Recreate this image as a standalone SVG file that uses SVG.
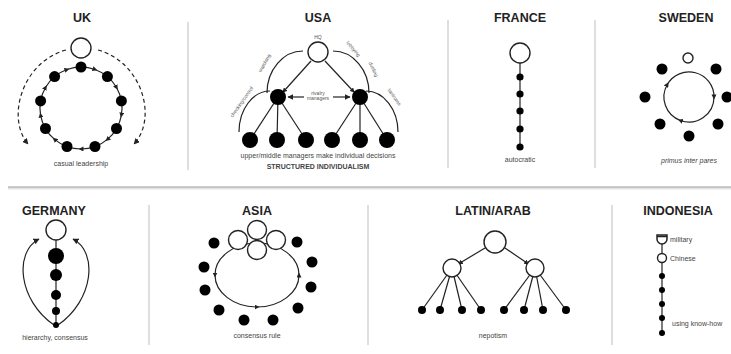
<svg xmlns="http://www.w3.org/2000/svg" width="731" height="354" viewBox="0 0 731 354">
<style>
.t{font-family:"Liberation Sans Narrow","Liberation Sans",Arial,sans-serif;font-weight:bold;font-size:12.5px;fill:#222;text-anchor:middle}
.s{font-family:"Liberation Sans",Arial,sans-serif;font-size:7px;fill:#444;text-anchor:middle}
.sl{font-family:"Liberation Sans",Arial,sans-serif;font-size:7px;fill:#444;text-anchor:start}
.xs{font-family:"Liberation Sans",Arial,sans-serif;font-size:5px;fill:#555;text-anchor:middle}
.o{fill:#fff;stroke:#222;stroke-width:1.4}
.b{fill:#000}
.l{fill:none;stroke:#222;stroke-width:1.2}
.sep{stroke:#c8c8c8;stroke-width:1.2}
</style>
<defs>
<marker id="ah" viewBox="0 0 10 10" refX="9" refY="5" markerWidth="6" markerHeight="6" orient="auto" markerUnits="userSpaceOnUse"><path d="M0,0 L10,5 L0,10 z" fill="#222"/></marker>
<marker id="am" viewBox="0 0 10 10" refX="5" refY="5" markerWidth="5" markerHeight="5" orient="auto" markerUnits="userSpaceOnUse"><path d="M0,0 L10,5 L0,10 z" fill="#222"/></marker>
</defs>
<rect width="731" height="354" fill="#fff"/>

<g id="separators">
<line class="sep" x1="188" y1="22" x2="188" y2="170"/>
<line class="sep" x1="448" y1="20" x2="448" y2="168"/>
<line class="sep" x1="595" y1="20" x2="595" y2="168"/>
<line x1="8" y1="188.5" x2="731" y2="188.5" stroke="#e2e2e2" stroke-width="2"/>
<line x1="8" y1="187" x2="731" y2="187" stroke="#9a9a9a" stroke-width="1.2"/>
<line class="sep" x1="149" y1="205" x2="149" y2="345"/>
<line class="sep" x1="368" y1="205" x2="368" y2="345"/>
<line class="sep" x1="612" y1="205" x2="612" y2="345"/>
</g>

<g id="titles">
<text class="t" x="82" y="22">UK</text>
<text class="t" x="318" y="22">USA</text>
<text class="t" x="520" y="22">FRANCE</text>
<text class="t" x="686" y="22">SWEDEN</text>
<text class="t" x="54" y="215">GERMANY</text>
<text class="t" x="257" y="215">ASIA</text>
<text class="t" x="493" y="215">LATIN/ARAB</text>
<text class="t" x="678" y="215">INDONESIA</text>
</g>

<g id="connectors">
<!-- UK -->
<path class="l" d="M66 50 C22 62 6 118 28 144" stroke-dasharray="4 3" marker-end="url(#ah)"/>
<path class="l" d="M98 50 C142 62 158 118 134 144" stroke-dasharray="4 3" marker-end="url(#ah)"/>
<path class="l" stroke-width="1" marker-start="url(#am)" marker-mid="url(#am)" d="M95 69.5 A41 41 0 0 1 116.5 87.5 A41 41 0 0 1 121.4 115.1 A41 41 0 0 1 107.4 139.4 A41 41 0 0 1 81 149 A41 41 0 0 1 54.6 139.4 A41 41 0 0 1 40.6 115.1 A41 41 0 0 1 45.5 87.5 A41 41 0 0 1 67 69.5 A41 41 0 0 1 95 69.5"/>
<!-- USA -->
<line class="l" x1="311" y1="61" x2="284" y2="91" marker-end="url(#am)"/>
<line class="l" x1="325" y1="61" x2="353" y2="91" marker-end="url(#am)"/>
<line class="l" x1="278" y1="97" x2="250" y2="140"/>
<line class="l" x1="278" y1="97" x2="277" y2="140" marker-end="url(#am)"/>
<line class="l" x1="278" y1="97" x2="306" y2="140"/>
<line class="l" x1="360" y1="97" x2="332" y2="140"/>
<line class="l" x1="360" y1="97" x2="360" y2="140" marker-end="url(#am)"/>
<line class="l" x1="360" y1="97" x2="387" y2="140"/>
<line class="l" x1="304" y1="97" x2="288" y2="97" marker-end="url(#ah)"/>
<line class="l" x1="333" y1="97" x2="350" y2="97" marker-end="url(#ah)"/>
<path class="l" d="M303 51 A36 42 0 0 0 267 93"/>
<path class="l" d="M270 91 A31 41 0 0 0 239 132"/>
<path class="l" d="M333 51 A36 42 0 0 1 369 93"/>
<path class="l" d="M366 91 A32 41 0 0 1 398 132"/>
<!-- FRANCE -->
<line class="l" x1="520" y1="63" x2="520" y2="147"/>
<!-- SWEDEN -->
<path class="l" stroke-width="1" marker-start="url(#am)" marker-mid="url(#am)" d="M667.3 84.5 A25 25 0 0 1 714 97 A25 25 0 0 1 680.4 120.5 A25 25 0 0 1 667.3 84.5"/>
<!-- GERMANY -->
<line class="l" x1="56" y1="240" x2="56" y2="326"/>
<path class="l" d="M54 325 C18 300 14 252 39 239" marker-end="url(#ah)"/>
<path class="l" d="M58 325 C94 300 98 252 73 239" marker-end="url(#ah)"/>
<!-- ASIA -->
<path class="l" stroke-width="1" marker-mid="url(#am)" d="M257 243 A42 32 0 0 0 215 275 A42 32 0 0 0 257 307 A42 32 0 0 0 299 275 A42 32 0 0 0 257 243"/>
<!-- LATIN/ARAB -->
<line class="l" x1="485" y1="248" x2="460" y2="263" marker-end="url(#am)"/>
<line class="l" x1="505" y1="248" x2="527" y2="263" marker-end="url(#am)"/>
<line class="l" x1="452" y1="268" x2="422" y2="310"/>
<line class="l" x1="452" y1="268" x2="440" y2="310"/>
<line class="l" x1="452" y1="268" x2="462" y2="310"/>
<line class="l" x1="452" y1="268" x2="481" y2="310"/>
<line class="l" x1="535" y1="268" x2="504" y2="310"/>
<line class="l" x1="535" y1="268" x2="524" y2="310"/>
<line class="l" x1="535" y1="268" x2="543" y2="310"/>
<line class="l" x1="535" y1="268" x2="566" y2="310"/>
<!-- INDONESIA -->
<line class="l" x1="662" y1="238" x2="662" y2="333" stroke-width="1.5"/>
</g>

<g id="uk">
<circle class="o" cx="81" cy="48" r="10"/>
<g class="b">
<circle cx="81" cy="67" r="5.5"/><circle cx="107.4" cy="76.6" r="5.5"/><circle cx="121.4" cy="100.9" r="5.5"/>
<circle cx="116.5" cy="128.5" r="5.5"/><circle cx="95" cy="146.5" r="5.5"/><circle cx="67" cy="146.5" r="5.5"/>
<circle cx="45.5" cy="128.5" r="5.5"/><circle cx="40.6" cy="100.9" r="5.5"/><circle cx="54.6" cy="76.6" r="5.5"/>
</g>
<text class="s" x="81" y="166">casual leadership</text>
</g>

<g id="usa">
<circle class="o" cx="318" cy="52" r="10"/>
<text class="xs" x="318" y="39">HQ</text>
<circle class="b" cx="278" cy="97" r="8"/>
<circle class="b" cx="360" cy="97" r="8"/>
<g class="b">
<circle cx="250" cy="140" r="8"/><circle cx="277" cy="140" r="8"/><circle cx="306" cy="140" r="8"/>
<circle cx="332" cy="140" r="8"/><circle cx="360" cy="140" r="8"/><circle cx="387" cy="140" r="8"/>
</g>
<text class="xs" x="318" y="95" font-size="4.5">rivalry</text>
<text class="xs" x="318" y="100" font-size="4.5">managers</text>
<text class="xs" transform="translate(266 64) rotate(-60)">watching</text>
<text class="xs" transform="translate(243 103) rotate(-55)">checking/control</text>
<text class="xs" transform="translate(352 50) rotate(50)">lobbying</text>
<text class="xs" transform="translate(372 70) rotate(65)">dueling</text>
<text class="xs" transform="translate(393 98) rotate(55)">tantrums</text>
<text class="s" x="318" y="158">upper/middle managers make individual decisions</text>
<text class="s" x="318" y="169" font-weight="bold" fill="#222">STRUCTURED INDIVIDUALISM</text>
</g>

<g id="france">
<circle class="o" cx="520" cy="53" r="10"/>
<g class="b">
<circle cx="520" cy="77" r="3.6"/><circle cx="520" cy="94" r="3.6"/><circle cx="520" cy="111" r="3.6"/>
<circle cx="520" cy="129" r="3.6"/><circle cx="520" cy="147" r="3.6"/>
</g>
<text class="s" x="520" y="162">autocratic</text>
</g>

<g id="sweden">
<circle class="o" cx="688" cy="58" r="5"/>
<g class="b">
<circle cx="662" cy="69" r="5.5"/><circle cx="716" cy="69" r="5.5"/><circle cx="645" cy="97" r="5.5"/>
<circle cx="727" cy="97" r="5.5"/><circle cx="660" cy="124" r="5.5"/><circle cx="718" cy="124" r="5.5"/>
<circle cx="689" cy="136" r="5.5"/>
</g>
<text class="s" x="689" y="163" font-style="italic">primus inter pares</text>
</g>

<g id="germany">
<circle class="o" cx="56" cy="230" r="10"/>
<g class="b">
<circle cx="56" cy="256" r="8"/><circle cx="56" cy="275" r="6"/><circle cx="56" cy="295" r="5"/>
<circle cx="56" cy="311" r="4"/><circle cx="56" cy="325" r="3"/>
</g>
<text class="s" x="55" y="340">hierarchy, consensus</text>
</g>

<g id="asia">
<circle class="o" cx="257" cy="230" r="9.5"/>
<circle class="o" cx="238" cy="240" r="9.5"/>
<circle class="o" cx="276" cy="240" r="9.5"/>
<circle class="o" cx="257" cy="250" r="9.5"/>
<g class="b">
<circle cx="214" cy="243" r="5.5"/><circle cx="204" cy="267" r="5.5"/><circle cx="205" cy="290" r="5.5"/>
<circle cx="219" cy="310" r="5.5"/><circle cx="244" cy="320" r="5.5"/><circle cx="273" cy="320" r="5.5"/>
<circle cx="298" cy="308" r="5.5"/><circle cx="311" cy="287" r="5.5"/><circle cx="312" cy="262" r="5.5"/>
<circle cx="297" cy="242" r="5.5"/>
</g>
<text class="s" x="257" y="338">consensus rule</text>
</g>

<g id="latin-arab">
<circle class="o" cx="495" cy="242" r="11"/>
<circle class="o" cx="452" cy="268" r="9"/>
<circle class="o" cx="535" cy="268" r="9"/>
<g class="b">
<circle cx="422" cy="310" r="4"/><circle cx="440" cy="310" r="4"/><circle cx="462" cy="310" r="4"/><circle cx="481" cy="310" r="4"/>
<circle cx="504" cy="310" r="4"/><circle cx="524" cy="310" r="4"/><circle cx="543" cy="310" r="4"/><circle cx="566" cy="310" r="4"/>
</g>
<text class="s" x="493" y="338">nepotism</text>
</g>

<g id="indonesia">
<path d="M657 235 L667 235 L667 239 A5 5 0 0 1 657 239 Z" fill="#fff" stroke="#222" stroke-width="1.5"/>
<line x1="657" y1="236.5" x2="667" y2="236.5" stroke="#222" stroke-width="1.5"/>
<circle class="o" cx="662" cy="258" r="4.5" stroke-width="1.6"/>
<g class="b">
<circle cx="662" cy="276" r="3"/><circle cx="662" cy="290" r="3"/><circle cx="662" cy="304" r="3"/>
<circle cx="662" cy="318" r="3"/><circle cx="662" cy="333" r="3"/>
</g>
<text class="sl" x="670" y="242">military</text>
<text class="sl" x="670" y="261">Chinese</text>
<text class="sl" x="672" y="326">using know-how</text>
</g>
</svg>
